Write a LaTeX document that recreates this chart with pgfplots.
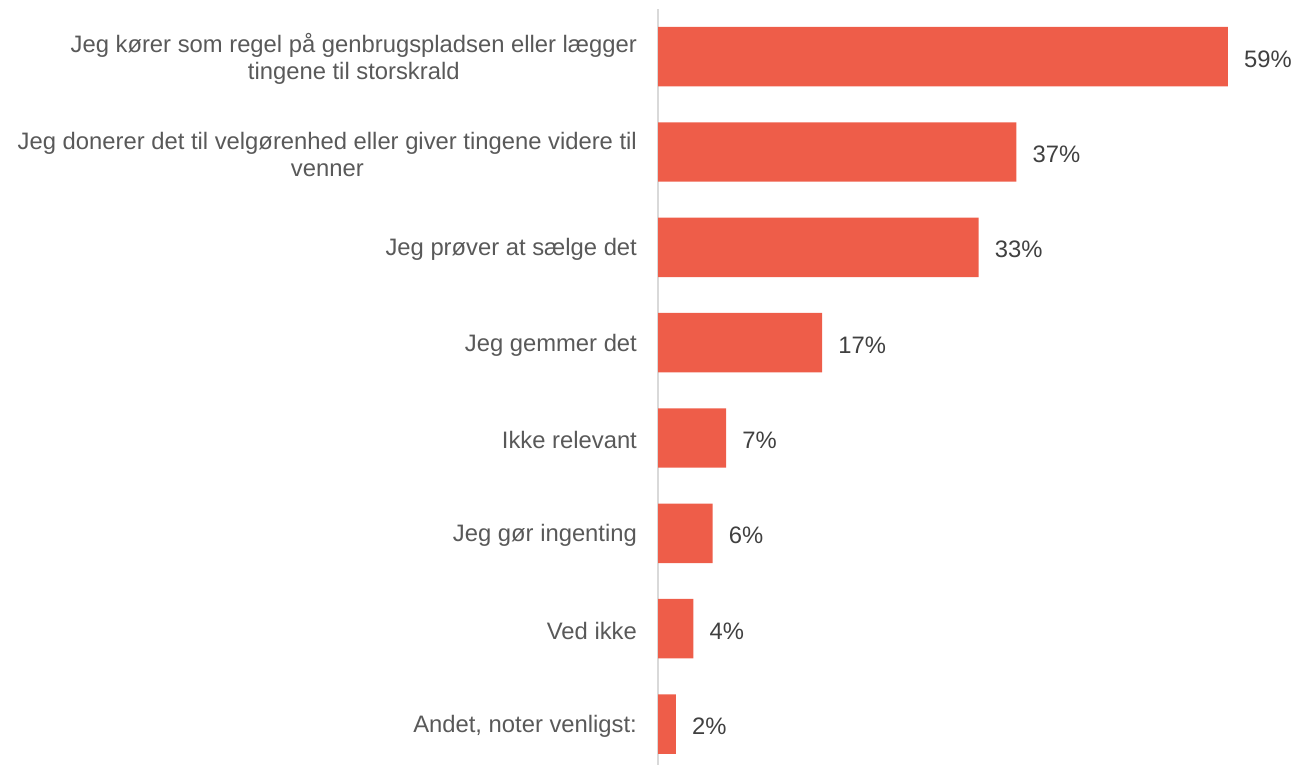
\documentclass[border=0pt]{standalone}
\usepackage{pgfplots}
\pgfplotsset{compat=1.18}
\usepackage{fontspec}
\setmainfont{Liberation Sans}
\definecolor{barc}{RGB}{238,93,73}
\definecolor{lab}{RGB}{89,89,89}
\definecolor{val}{RGB}{64,64,64}
\definecolor{axl}{RGB}{217,217,217}
\begin{document}
\begin{tikzpicture}
\begin{axis}[
  at={(493.5pt,0pt)}, anchor=south west,
  scale only axis,
  width=470.9pt, height=567pt,
  xbar, bar width=44.6pt,
  xmin=0, xmax=65,
  ymin=-0.5, ymax=7.43,
  y dir=reverse,
  axis y line=left, axis x line=none,
  y axis line style={draw=axl, line width=1.2pt, -},
  ytick={0,...,7},
  ytick style={draw=none},
  yticklabels={
    {Jeg kører som regel på genbrugspladsen eller lægger\\tingene til storskrald},
    {Jeg donerer det til velgørenhed eller giver tingene videre til\\venner},
    {Jeg prøver at sælge det},
    {Jeg gemmer det},
    {Ikke relevant},
    {Jeg gør ingenting},
    {Ved ikke},
    {Andet, noter venligst:}},
  yticklabel style={align=center, anchor=east, inner sep=0pt, xshift=-13.5pt,
    yshift=-1.8pt, font=\fontsize{17.85}{20.5}\selectfont, text=lab},
  point meta=explicit symbolic,
  nodes near coords={\pgfplotspointmeta\%},
  nodes near coords style={anchor=west, inner sep=0pt, xshift=12pt,
    yshift=-1.8pt, font=\fontsize{17.85}{20.5}\selectfont, text=val},
  clip=false,
]
\addplot[fill=barc, draw=none] coordinates {
  (59,0) [59]
  (37.1,1) [37]
  (33.2,2) [33]
  (17,3) [17]
  (7.05,4) [7]
  (5.65,5) [6]
  (3.65,6) [4]
  (1.85,7) [2]
};
\end{axis}
\pgfresetboundingbox
\useasboundingbox (0,0) rectangle (974.25pt,573.75pt);
\end{tikzpicture}
\end{document}
